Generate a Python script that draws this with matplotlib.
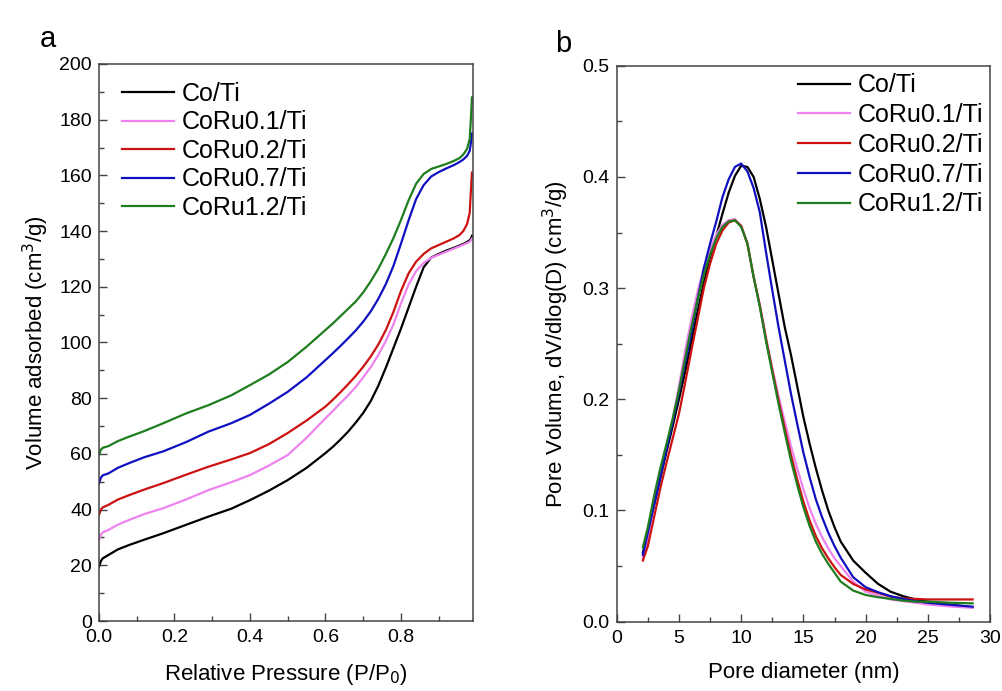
import matplotlib
matplotlib.use("Agg")
import matplotlib.pyplot as plt
from matplotlib.ticker import MultipleLocator

plt.rcParams['font.family'] = ['Liberation Sans', 'DejaVu Sans']

labels = ["Co/Ti", "CoRu0.1/Ti", "CoRu0.2/Ti", "CoRu0.7/Ti", "CoRu1.2/Ti"]
colors = ['#000000', '#ee82ee', '#cc1111', '#1010c0', '#1e7d1e']

# (a) N2 isotherms
p_rel = [0.0, 0.005, 0.01, 0.025, 0.05, 0.08, 0.12, 0.17, 0.23, 0.29, 0.35, 0.4, 0.45,
         0.5, 0.55, 0.6, 0.62, 0.64, 0.66, 0.68, 0.7, 0.72, 0.74, 0.76, 0.78, 0.8, 0.82,
         0.84, 0.86, 0.88, 0.9, 0.92, 0.94, 0.955, 0.965, 0.975, 0.982, 0.985, 0.988]
vol_co = [19.5, 21.5, 22.5, 23.7, 25.7, 27.3, 29.2, 31.5, 34.5, 37.5, 40.3, 43.4, 46.8,
          50.6, 55.0, 60.3, 62.6, 65.2, 68.0, 71.2, 74.7, 79.0, 84.5, 91.0, 98.0, 105.0, 112.5,
          120.0, 127.0, 130.5, 131.8, 133.0, 134.0, 134.8, 135.4, 136.1, 136.7, 137.3, 138.3]
vol_ru01 = [29.1, 31.0, 31.8, 32.7, 34.6, 36.3, 38.4, 40.5, 43.6, 47.0, 49.8, 52.4, 55.8,
            59.6, 65.8, 72.8, 75.5, 78.3, 81.0, 84.0, 87.5, 91.2, 95.5, 100.6, 106.5, 114.0, 120.8,
            125.6, 128.6, 130.4, 131.5, 132.6, 133.7, 134.5, 135.1, 135.7, 136.2, 136.7, 137.3]
vol_ru02 = [38.1, 40.0, 40.8, 41.7, 43.6, 45.2, 47.2, 49.5, 52.5, 55.4, 58.0, 60.3, 63.5,
            67.5, 72.0, 77.0, 79.5, 82.2, 85.0, 88.0, 91.3, 95.0, 99.3, 104.5, 111.0, 118.5, 124.8,
            129.0, 131.8, 133.8, 135.0, 136.2, 137.4, 138.6, 140.0, 142.5, 146.5, 154.0, 161.0]
vol_ru07 = [49.4, 51.5, 52.3, 53.0, 55.0, 56.7, 58.8, 60.9, 64.2, 68.0, 71.0, 74.0, 78.0,
            82.3, 87.5, 93.7, 96.2, 98.8, 101.5, 104.3, 107.5, 111.2, 115.7, 121.0, 127.5, 135.5, 143.8,
            151.5, 156.5, 159.6, 161.2, 162.5, 163.7, 164.8, 165.7, 167.0, 168.8, 171.5, 175.0]
vol_ru12 = [59.6, 61.5, 62.2, 62.8, 64.6, 66.2, 68.2, 71.0, 74.5, 77.5, 81.0, 84.7, 88.5,
            93.0, 98.5, 104.5, 106.9, 109.5, 112.1, 114.7, 118.0, 122.0, 126.5, 131.8, 137.5, 144.0, 151.0,
            157.0, 160.5, 162.3, 163.2, 164.1, 165.2, 166.2, 167.5, 169.5, 173.0, 180.0, 188.0]

# (b) pore size distribution
diam = [2.1, 2.5, 3, 3.5, 4, 4.5, 5, 5.5, 6, 6.5, 7, 7.5, 8, 8.5, 9, 9.5, 10, 10.5, 11,
        11.5, 12, 12.5, 13, 13.5, 14, 14.5, 15, 15.5, 16, 16.5, 17, 17.5, 18, 19, 20, 21,
        22, 23, 24, 25, 26, 27, 28.6]
psd_co = [0.062, 0.081, 0.105, 0.129, 0.153, 0.176, 0.200, 0.225, 0.252, 0.279, 0.305, 0.328,
          0.347, 0.367, 0.386, 0.401, 0.410, 0.409, 0.400, 0.380, 0.355, 0.325, 0.295, 0.265,
          0.240, 0.212, 0.184, 0.160, 0.138, 0.118, 0.100, 0.085, 0.072, 0.055, 0.044, 0.034,
          0.027, 0.023, 0.020, 0.018, 0.0165, 0.015, 0.013]
psd_ru01 = [0.057, 0.075, 0.108, 0.135, 0.158, 0.182, 0.212, 0.244, 0.272, 0.297, 0.318, 0.335,
            0.348, 0.357, 0.361, 0.362, 0.356, 0.340, 0.310, 0.285, 0.255, 0.228, 0.203, 0.180,
            0.158, 0.138, 0.119, 0.102, 0.088, 0.076, 0.066, 0.057, 0.050, 0.036, 0.027, 0.0235,
            0.020, 0.0185, 0.017, 0.0155, 0.0145, 0.0135, 0.0125]
psd_ru02 = [0.055, 0.068, 0.094, 0.120, 0.143, 0.165, 0.187, 0.215, 0.244, 0.272, 0.300, 0.322,
            0.340, 0.352, 0.359, 0.361, 0.356, 0.340, 0.310, 0.284, 0.254, 0.226, 0.199, 0.174,
            0.150, 0.128, 0.108, 0.091, 0.077, 0.066, 0.057, 0.049, 0.042, 0.034, 0.029, 0.026,
            0.0225, 0.021, 0.0205, 0.020, 0.020, 0.020, 0.020]
psd_ru07 = [0.060, 0.080, 0.105, 0.130, 0.155, 0.180, 0.206, 0.233, 0.260, 0.290, 0.318, 0.340,
            0.360, 0.382, 0.398, 0.409, 0.412, 0.405, 0.390, 0.368, 0.332, 0.298, 0.265, 0.235,
            0.205, 0.178, 0.152, 0.130, 0.110, 0.094, 0.080, 0.068, 0.0575, 0.040, 0.031, 0.0265,
            0.023, 0.0205, 0.0185, 0.017, 0.016, 0.015, 0.0135]
psd_ru12 = [0.067, 0.085, 0.113, 0.138, 0.160, 0.183, 0.208, 0.237, 0.265, 0.290, 0.312, 0.330,
            0.345, 0.355, 0.360, 0.361, 0.355, 0.340, 0.310, 0.283, 0.252, 0.224, 0.196, 0.170,
            0.145, 0.123, 0.103, 0.086, 0.072, 0.061, 0.052, 0.044, 0.036, 0.028, 0.024, 0.022,
            0.0205, 0.019, 0.018, 0.018, 0.0175, 0.017, 0.0165]


def style_axes(ax):
    for s in ax.spines.values():
        s.set_color('#444444')
        s.set_linewidth(1.1)
    ax.tick_params(which='both', direction='in', top=False, right=False,
                   labelsize=14, pad=5, color='#444444')
    ax.tick_params(axis='x', pad=6)
    ax.tick_params(which='major', length=6, width=1.0)
    ax.tick_params(which='minor', length=3.5, width=1.0)


fig = plt.figure(figsize=(10.03, 6.91), dpi=100)
ax1 = fig.add_axes([0.0987, 0.1013, 0.3726, 0.8061])
ax2 = fig.add_axes([0.6149, 0.1003, 0.3722, 0.8046])

iso = [vol_co, vol_ru01, vol_ru02, vol_ru07, vol_ru12]
for vals, lab, c in zip(iso, labels, colors):
    ax1.plot(p_rel, vals, color=c, lw=1.6, label=lab)
ax1.set_xlim(0, 0.99)
ax1.set_ylim(0, 200)
ax1.xaxis.set_major_locator(MultipleLocator(0.2))
ax1.xaxis.set_minor_locator(MultipleLocator(0.1))
ax1.yaxis.set_major_locator(MultipleLocator(20))
ax1.yaxis.set_minor_locator(MultipleLocator(10))
ax1.xaxis.set_major_formatter(plt.FormatStrFormatter('%.1f'))
ax1.set_xlabel('Relative Pressure (P/P$_0$)', fontsize=16, labelpad=11)
ax1.set_ylabel('Volume adsorbed (cm$^3$/g)', fontsize=16, labelpad=6)
style_axes(ax1)
ax1.legend(loc='upper left', bbox_to_anchor=(0.061, 0.968), frameon=False, fontsize=18,
           handlelength=2.08, handletextpad=0.3, labelspacing=0.18, borderpad=0, borderaxespad=0)

psd = [psd_co, psd_ru01, psd_ru02, psd_ru07, psd_ru12]
for vals, lab, c in zip(psd, labels, colors):
    ax2.plot(diam, vals, color=c, lw=1.6, label=lab)
ax2.set_xlim(0, 30)
ax2.set_ylim(0, 0.5)
ax2.xaxis.set_major_locator(MultipleLocator(5))
ax2.xaxis.set_minor_locator(MultipleLocator(2.5))
ax2.yaxis.set_major_locator(MultipleLocator(0.1))
ax2.yaxis.set_minor_locator(MultipleLocator(0.05))
ax2.yaxis.set_major_formatter(plt.FormatStrFormatter('%.1f'))
ax2.set_xlabel('Pore diameter (nm)', fontsize=16, labelpad=11)
ax2.set_ylabel('Pore Volume, dV/dlog(D) (cm$^3$/g)', fontsize=16, labelpad=8)
style_axes(ax2)
ax2.legend(loc='upper left', bbox_to_anchor=(0.486, 0.986), frameon=False, fontsize=18,
           handlelength=2.08, handletextpad=0.32, labelspacing=0.23, borderpad=0, borderaxespad=0)

fig.text(0.040, 0.932, 'a', fontsize=21)
fig.text(0.553, 0.925, 'b', fontsize=21)

fig.savefig('out.png', dpi=100)
